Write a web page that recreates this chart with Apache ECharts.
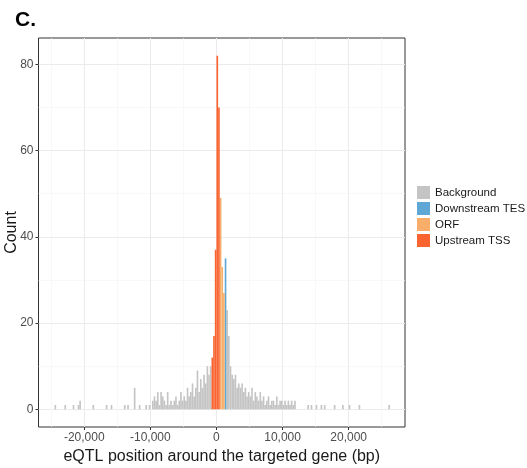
<!DOCTYPE html>
<html><head><meta charset="utf-8">
<script src="https://cdn.jsdelivr.net/npm/echarts@6/dist/echarts.min.js"></script>
<style>html,body{margin:0;padding:0;background:#fff}#c{width:527px;height:468px}</style>
</head><body><div id="c"></div>
<script>
// Histogram bins (250 bp wide), bin centres in bp and counts
const backgroundPos = [-24375,-22875,-21625,-20875,-20625,-18625,-16625,-15875,-13875,-13375,-12375,-11625,-10625,-10125,
  -9625,-9375,-9125,-8875,-8625,-8375,-8125,-7875,-7625,-7375,-7125,-6875,-6625,-6375,-6125,-5875,-5625,-5375,-5125,
  -4875,-4625,-4375,-4125,-3875,-3625,-3375,-3125,-2875,-2625,-2375,-2125,-1875,-1625,-1375,-1125,-875,
  1625,1875,2125,2375,2625,2875,3125,3375,3625,3875,4125,4375,4625,4875,5125,5375,5625,5875,6125,6375,6625,6875,
  7125,7375,7625,7875,8125,8375,8625,8875,9125,9375,9625,9875,10125,10375,10625,10875,11125,11375,11625,11875,
  13875,14375,15125,15875,16375,17875,19125,20125,21625,26125];
const backgroundCount = [1,1,1,1,2,1,1,1,1,1,5,1,1,1,
  2,3,2,4,1,4,3,2,1,4,1,2,1,2,3,1,2,4,2,
  3,2,5,3,4,6,3,5,9,4,7,5,8,6,10,8,10,
  23,17,10,8,7,8,5,6,5,6,4,5,3,4,3,5,2,4,3,2,4,2,
  3,1,2,3,1,2,2,1,3,1,2,2,1,2,1,2,1,2,1,2,
  1,1,1,1,1,1,1,1,1,1];
const downstreamPos = [1375];
const downstreamCount = [35];
const orfPos = [625,875,1125];
const orfCount = [49,33,27];
const upstreamPos = [-625,-375,-125,125,375];
const upstreamCount = [12,17,37,82,70];

const seriesNames = ['Background','Downstream TES','ORF','Upstream TSS'];
const seriesColors = ['#C4C4C4','#5FA8D6','#F8AE6A','#FA6431'];
const xTicks = [-20000,-10000,0,10000,20000];
const xMinor = [-25000,-15000,-5000,5000,15000,25000];
const yTicks = [0,20,40,60,80];
const yMinor = [10,30,50,70];

const pairs = (p, c) => p.map((v, i) => [v, c[i]]);
const seriesData = [
  pairs(backgroundPos, backgroundCount),
  pairs(downstreamPos, downstreamCount),
  pairs(orfPos, orfCount),
  pairs(upstreamPos, upstreamCount)
];

const FONT = 'Liberation Sans, Arial, Helvetica, sans-serif';
const chart = echarts.init(document.getElementById('c'), null, {renderer: 'canvas'});
const fmt = v => (v < 0 ? '-' : '') + Math.abs(v).toLocaleString('en-US');

chart.setOption({
  animation: false,
  backgroundColor: '#fff',
  title: {text: 'C.', left: 10, top: 5, textStyle: {fontFamily: FONT, fontSize: 21, fontWeight: 'bold', color: '#000'}},
  grid: {left: 38.5, right: 122, top: 38, bottom: 41, show: true, borderColor: '#333', borderWidth: 1,
    backgroundColor: 'transparent', containLabel: false, outerBoundsMode: 'none'},
  legend: {
    orient: 'vertical', left: 417, top: 186, itemWidth: 13, itemHeight: 13, itemGap: 3, padding: 0,
    icon: 'rect', data: seriesNames,
    textStyle: {fontFamily: FONT, fontSize: 11.5, color: '#1a1a1a'}
  },
  xAxis: [{
    type: 'value', min: -26920, max: 28520,
    name: 'eQTL position around the targeted gene (bp)', nameLocation: 'middle', nameGap: 22, nameMoveOverlap: false,
    nameTextStyle: {fontFamily: FONT, fontSize: 16, color: '#1a1a1a'},
    axisLine: {show: false, onZero: false},
    axisTick: {show: true, length: 3, customValues: xTicks, lineStyle: {color: '#333'}},
    axisLabel: {customValues: xTicks, formatter: fmt, margin: 5, fontFamily: FONT, fontSize: 12, color: '#4D4D4D'},
    splitLine: {show: true, lineStyle: {color: '#EBEBEB', width: 1}}
  }, {
    type: 'value', min: -26920, max: 28520, position: 'bottom',
    axisLine: {show: false, onZero: false}, axisLabel: {show: false},
    axisTick: {show: false, customValues: xMinor},
    splitLine: {show: true, lineStyle: {color: '#F3F3F3', width: 0.6}}
  }],
  yAxis: [{
    type: 'value', min: -4.1, max: 86.1,
    name: 'Count', nameLocation: 'middle', nameGap: 19, nameMoveOverlap: false,
    nameTextStyle: {fontFamily: FONT, fontSize: 16, color: '#1a1a1a'},
    axisLine: {show: false, onZero: false},
    axisTick: {show: true, length: 3, customValues: yTicks, lineStyle: {color: '#333'}},
    axisLabel: {customValues: yTicks, margin: 5, fontFamily: FONT, fontSize: 12, color: '#4D4D4D'},
    splitLine: {show: true, lineStyle: {color: '#EBEBEB', width: 1}}
  }, {
    type: 'value', min: -4.1, max: 86.1, position: 'left',
    axisLine: {show: false, onZero: false}, axisLabel: {show: false},
    axisTick: {show: false, customValues: yMinor},
    splitLine: {show: true, lineStyle: {color: '#F3F3F3', width: 0.6}}
  }],
  series: seriesNames.map((name, i) => ({
    name, type: 'bar', stack: 'hist', barWidth: 1.65,
    xAxisIndex: 0, yAxisIndex: 0,
    itemStyle: {color: seriesColors[i]},
    emphasis: {disabled: true},
    data: seriesData[i]
  }))
});
</script></body></html>
